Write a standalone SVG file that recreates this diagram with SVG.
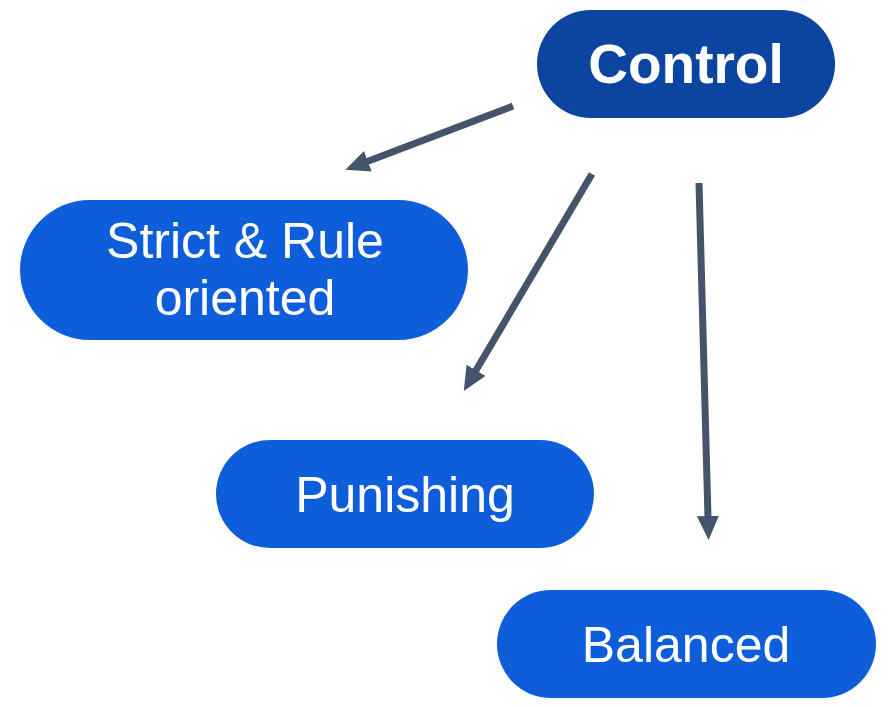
<svg xmlns="http://www.w3.org/2000/svg" width="888" height="707" viewBox="0 0 888 707">
  <defs>
    <marker id="head" viewBox="0 0 24 22" refX="2" refY="11" markerWidth="24" markerHeight="22" markerUnits="userSpaceOnUse" orient="auto">
      <path d="M0,0 L24,11 L0,22 Z" fill="#44546A"/>
    </marker>
  </defs>
  <style>
    .pill { fill: #0E5EDC; }
    .root { fill: #0B45A0; }
    .lbl { font-family: "Liberation Sans", Arial, sans-serif; fill: #FFFFFF; text-anchor: middle; font-size: 50px; }
    .bold { font-weight: bold; font-size: 55px; }
    .edge { stroke: #44546A; stroke-width: 7; fill: none; marker-end: url(#head); }
  </style>
  <rect width="888" height="707" fill="#FFFFFF"/>

  <g id="connectors">
    <line class="edge" x1="513" y1="106" x2="366" y2="162"/>
    <line class="edge" x1="592" y1="174" x2="475" y2="372"/>
    <line class="edge" x1="699" y1="183" x2="708" y2="518"/>
  </g>

  <g id="control">
    <rect class="root" x="537" y="10" width="298" height="108" rx="54"/>
    <text class="lbl bold" x="686" y="83">Control</text>
  </g>

  <g id="strict">
    <rect class="pill" x="20" y="200" width="448" height="140" rx="70"/>
    <text class="lbl" x="245" y="258">Strict &amp; Rule</text>
    <text class="lbl" x="245" y="315">oriented</text>
  </g>

  <g id="punishing">
    <rect class="pill" x="216" y="440" width="378" height="108" rx="54"/>
    <text class="lbl" x="405" y="512">Punishing</text>
  </g>

  <g id="balanced">
    <rect class="pill" x="497" y="590" width="379" height="108" rx="54"/>
    <text class="lbl" x="686" y="662">Balanced</text>
  </g>
</svg>
